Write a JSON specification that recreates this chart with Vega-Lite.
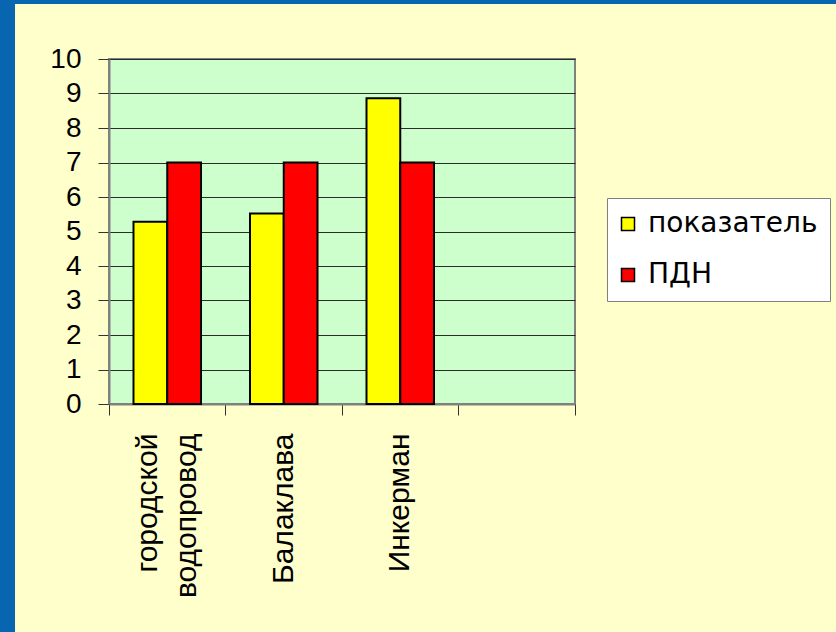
{
  "$schema": "https://vega.github.io/schema/vega-lite/v6.json",
  "padding": 0,
  "background": "#FFFFCC",
  "spacing": 0,
  "config": {
    "font": "Liberation Sans",
    "concat": {"spacing": 0}
  },
  "hconcat": [
    {
      "data": {"values": []},
      "mark": "rect",
      "encoding": {},
      "width": 15,
      "height": 632,
      "view": {"fill": "#0865AF", "stroke": null}
    },
    {
      "spacing": 40,
      "vconcat": [
        {
          "data": {"values": []},
          "mark": "rect",
          "encoding": {},
          "width": 821,
          "height": 4,
          "view": {"fill": "#0865AF", "stroke": null}
        },
        {
          "spacing": 0,
          "hconcat": [
            {
              "data": {"values": []},
              "mark": "rect",
              "encoding": {},
              "width": 1,
              "height": 1,
              "view": {"stroke": null}
            },
            {
              "data": {
                "values": [
                  {"site": "городской водопровод", "series": "показатель", "value": 5.28},
                  {"site": "городской водопровод", "series": "ПДН", "value": 7},
                  {"site": "Балаклава", "series": "показатель", "value": 5.52},
                  {"site": "Балаклава", "series": "ПДН", "value": 7},
                  {"site": "Инкерман", "series": "показатель", "value": 8.86},
                  {"site": "Инкерман", "series": "ПДН", "value": 7}
                ]
              },
              "width": 466,
              "height": 345,
              "view": {"fill": "#CCFFCC", "stroke": "#808080", "strokeWidth": 2},
              "mark": {"type": "bar", "stroke": "#000000", "strokeWidth": 2},
              "encoding": {
                "x": {
                  "field": "site",
                  "type": "nominal",
                  "scale": {
                    "domain": ["городской водопровод", "Балаклава", "Инкерман", " "],
                    "paddingInner": 0,
                    "paddingOuter": 0
                  },
                  "axis": {
                    "title": null,
                    "bandPosition": 1,
                    "tickExtra": true,
                    "labelOffset": {"condition": {"test": "datum.value == 'городской водопровод'", "value": -19}, "value": 0},
                    "tickSize": 11,
                    "tickColor": "#333333",
                    "domainColor": "#808080",
                    "domainWidth": 2,
                    "labelAngle": 270,
                    "labelAlign": "right",
                    "labelBaseline": "middle",
                    "labelPadding": 18,
                    "labelFont": "Liberation Sans",
                    "labelFontSize": 30,
                    "labelColor": "#000000",
                    "labelLineHeight": 39,
                    "labelLimit": 400,
                    "labelOverlap": false,
                    "grid": false,
                    "labelExpr": "datum.value == 'городской водопровод' ? ['городской\u00a0\u00a0', 'водопровод'] : datum.value"
                  }
                },
                "xOffset": {
                  "field": "series",
                  "type": "nominal",
                  "scale": {"domain": ["показатель", "ПДН"], "paddingInner": 0, "paddingOuter": 0.726}
                },
                "y": {
                  "field": "value",
                  "type": "quantitative",
                  "scale": {"domain": [0, 10], "nice": false},
                  "axis": {
                    "title": null,
                    "values": [0, 1, 2, 3, 4, 5, 6, 7, 8, 9, 10],
                    "tickSize": 11,
                    "tickColor": "#333333",
                    "domainColor": "#808080",
                    "domainWidth": 2,
                    "labelPadding": 17,
                    "labelFont": "Liberation Sans",
                    "labelFontSize": 28,
                    "labelColor": "#000000",
                    "labelOverlap": false,
                    "minExtent": 92,
                    "grid": true,
                    "gridColor": "#2b2b2b",
                    "gridWidth": 1,
                    "gridOpacity": 1
                  }
                },
                "color": {
                  "field": "series",
                  "type": "nominal",
                  "scale": {"domain": ["показатель", "ПДН"], "range": ["#FFFF00", "#FF0000"]},
                  "legend": {
                    "title": null,
                    "orient": "none",
                    "legendX": 607,
                    "legendY": 198,
                    "fillColor": "#FFFFFF",
                    "strokeColor": "#808080",
                    "padding": 12,
                    "rowPadding": 23,
                    "symbolType": "square",
                    "symbolSize": 169,
                    "symbolOffset": -5,
                    "symbolStrokeColor": "#000000",
                    "symbolStrokeWidth": 1.5,
                    "labelFont": "DejaVu Sans",
                    "labelFontSize": 28,
                    "labelColor": "#000000",
                    "labelOffset": 6,
                    "labelLimit": 300
                  }
                }
              }
            }
          ]
        }
      ]
    }
  ]
}
